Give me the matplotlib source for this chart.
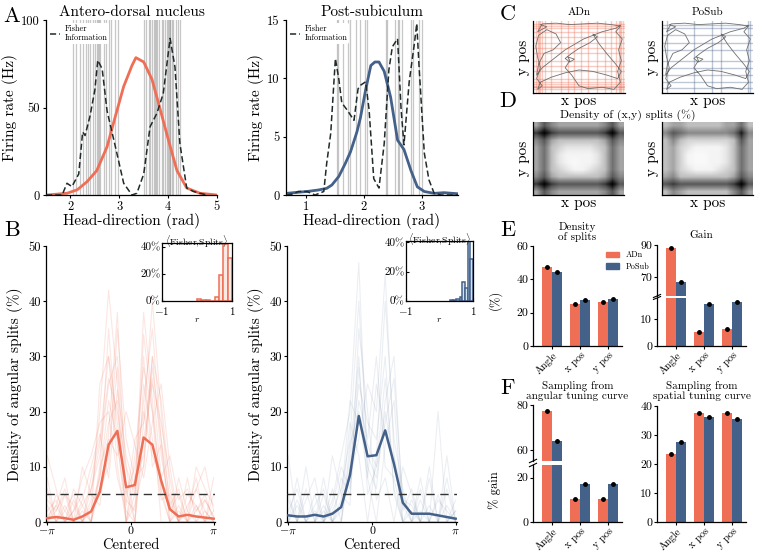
import matplotlib
matplotlib.use("Agg")
import matplotlib.pyplot as plt
import numpy as np
from matplotlib.patches import Patch
from matplotlib.lines import Line2D

plt.rcParams['font.family'] = ['cmr10', 'DejaVu Serif']
plt.rcParams['mathtext.fontset'] = 'cm'
plt.rcParams['axes.unicode_minus'] = False
plt.rcParams['axes.linewidth'] = 0.9

ORANGE = '#EE6F55'
BLUE = '#44618A'
GREY = '#9a9a9a'

# ---------------- panel A: tuning curves and Fisher information ----------------
adn_hd = [1.52, 1.93, 2.14, 2.34, 2.54, 2.75, 2.92, 3.09, 3.26, 3.34, 3.50, 3.67,
          3.84, 4.01, 4.18, 4.38, 4.65, 5.0]
adn_rate = [0, 1, 3, 7.6, 14, 27.6, 45, 62, 74, 78.5, 76, 66, 48.6, 31, 14, 4, 1, 0]
adn_fi_hd = [1.5, 1.83, 1.93, 2.03, 2.17, 2.25, 2.30, 2.40, 2.50, 2.56, 2.65, 2.75,
             2.92, 3.09, 3.26, 3.36, 3.50, 3.63, 3.77, 3.90, 4.04, 4.14, 4.24, 4.38,
             4.52, 4.65, 4.8]
adn_fi = [0, 0, 6.7, 4.8, 12, 36, 34, 45, 60, 77, 72, 48, 27.6, 6.7, 0, 1, 12, 39,
          46.7, 58, 89.5, 73, 29.5, 4, 2, 1, 0]
adn_splits = [2.05, 2.12, 2.20, 2.26, 2.31, 2.35, 2.41, 2.46, 2.51, 2.54, 2.56, 2.58,
              2.61, 2.68, 2.73, 2.78, 2.84, 2.91, 2.97, 3.51, 3.55, 3.60, 3.63, 3.67,
              3.71, 3.74, 3.76, 3.78, 3.82, 3.87, 3.90, 3.94, 3.97, 4.00, 4.02, 4.03,
              4.04, 4.07, 4.10, 4.16, 4.21, 4.24]

psb_hd = [0.67, 0.79, 1.02, 1.22, 1.36, 1.45, 1.57, 1.68, 1.77, 1.88, 1.94, 2.03,
          2.12, 2.19, 2.26, 2.35, 2.46, 2.58, 2.69, 2.81, 2.92, 3.04, 3.21, 3.38,
          3.53, 3.64]
psb_rate = [0.14, 0.2, 0.3, 0.43, 0.57, 0.86, 1.6, 2.7, 3.7, 5.4, 6.6, 9, 11.1, 11.4,
            11.4, 10.6, 8.4, 4.7, 3.9, 2.1, 0.7, 0.3, 0.14, 0.2, 0.14, 0.1]
psb_fi_hd = [0.67, 0.79, 0.87, 1.02, 1.16, 1.31, 1.36, 1.43, 1.51, 1.57, 1.62, 1.71,
             1.83, 1.90, 1.94, 2.03, 2.09, 2.17, 2.26, 2.35, 2.43, 2.49, 2.58, 2.64,
             2.69, 2.78, 2.87, 2.91, 2.95, 3.04, 3.12, 3.21, 3.33, 3.64]
psb_fi = [0, 0.1, 0.3, 0.3, 0, 0.3, 2.7, 5.3, 11.7, 9.9, 7.9, 7.3, 6.4, 9.1, 9.4, 9.7,
          7.3, 1.4, 0.6, 4.4, 10.7, 12.7, 13.4, 7.4, 4.3, 9.7, 13, 14.7, 11, 3.6,
          1.3, 0.14, 0, 0]
psb_splits = [1.53, 1.55, 1.64, 1.72, 1.76, 1.86, 1.94, 2.02, 2.05, 2.38, 2.40, 2.53,
              2.58, 2.61, 2.66, 2.81, 2.84, 2.95, 3.0]

# ---------------- panel B: density of angular splits ----------------
centered = np.linspace(-np.pi, np.pi, 20)
adn_mean = [0.7, 0.9, 0.7, 0.4, 1.0, 1.9, 5.5, 14.0, 16.5, 6.3, 6.7, 15.3, 14.0, 7.5,
            2.3, 1.0, 1.3, 1.0, 0.8, 0.6]
psb_mean = [1.2, 1.0, 1.0, 1.3, 1.0, 1.5, 2.7, 8.5, 19.2, 11.9, 12.1, 16.6, 10.5, 3.5,
            1.5, 1.5, 1.5, 1.2, 0.9, 0.6]
adn_cells = [
    [0, 2, 5, 0, 3, 6, 12, 25, 30, 10, 5, 22, 35, 15, 4, 0, 3, 6, 2, 0],
    [3, 0, 0, 4, 0, 3, 8, 18, 22, 0, 12, 28, 20, 6, 0, 2, 0, 0, 4, 1],
    [0, 5, 2, 0, 0, 8, 15, 30, 18, 6, 0, 15, 25, 18, 8, 0, 5, 3, 0, 2],
    [8, 0, 0, 2, 5, 0, 6, 10, 35, 15, 8, 10, 30, 12, 3, 6, 0, 0, 2, 0],
    [0, 0, 3, 0, 0, 4, 20, 42, 25, 0, 5, 38, 22, 5, 0, 0, 2, 8, 0, 0],
    [2, 4, 0, 6, 3, 0, 10, 15, 12, 20, 14, 8, 18, 25, 10, 0, 0, 3, 0, 5],
    [0, 0, 0, 2, 8, 12, 18, 20, 8, 2, 0, 18, 40, 20, 2, 5, 0, 0, 0, 0],
    [4, 2, 6, 0, 0, 2, 5, 12, 28, 5, 10, 20, 12, 8, 12, 4, 6, 2, 4, 1],
    [12, 6, 0, 0, 2, 0, 8, 22, 15, 0, 3, 10, 28, 15, 0, 0, 0, 10, 6, 3],
    [0, 0, 5, 3, 0, 6, 14, 26, 20, 10, 0, 25, 15, 4, 5, 0, 8, 0, 0, 0],
    [1, 3, 0, 0, 10, 5, 3, 16, 38, 4, 2, 34, 20, 0, 0, 3, 0, 2, 5, 0],
    [0, 0, 2, 5, 0, 0, 25, 30, 10, 0, 8, 12, 30, 22, 6, 0, 0, 0, 0, 8],
    [6, 0, 0, 0, 4, 10, 16, 8, 24, 12, 6, 30, 10, 14, 0, 8, 2, 0, 0, 0],
    [0, 3, 8, 0, 0, 0, 9, 35, 14, 3, 15, 18, 26, 8, 3, 0, 0, 6, 10, 2],
]
psb_cells = [
    [0, 3, 0, 5, 0, 2, 6, 15, 40, 12, 8, 20, 10, 3, 0, 4, 0, 0, 6, 0],
    [5, 0, 0, 0, 8, 0, 0, 10, 25, 18, 15, 30, 5, 0, 2, 0, 8, 0, 0, 2],
    [0, 0, 10, 0, 0, 4, 12, 20, 47, 8, 0, 14, 22, 0, 0, 0, 0, 5, 0, 0],
    [2, 6, 0, 0, 3, 0, 3, 8, 15, 25, 20, 45, 12, 5, 0, 6, 0, 0, 3, 0],
    [0, 0, 4, 8, 0, 6, 0, 12, 30, 5, 10, 18, 26, 4, 3, 0, 10, 0, 0, 4],
    [12, 0, 0, 0, 0, 0, 8, 5, 22, 15, 30, 10, 8, 0, 0, 2, 0, 0, 0, 0],
    [0, 4, 0, 3, 6, 0, 2, 18, 12, 0, 12, 40, 15, 6, 0, 0, 3, 0, 8, 0],
    [0, 0, 6, 0, 0, 12, 5, 3, 35, 20, 4, 8, 0, 10, 5, 0, 0, 20, 0, 2],
    [4, 0, 0, 0, 2, 0, 0, 14, 20, 8, 25, 16, 12, 0, 0, 8, 0, 0, 0, 0],
    [0, 8, 0, 2, 0, 3, 10, 6, 28, 10, 6, 22, 30, 2, 6, 0, 0, 4, 2, 0],
    [0, 0, 0, 0, 5, 0, 4, 22, 18, 14, 10, 26, 6, 0, 4, 0, 0, 0, 12, 0],
]

# insets: correlation Fisher vs splits
adn_r_edges = [0.0, 0.125, 0.25, 0.375, 0.5, 0.625, 0.75, 0.875, 1.0]
adn_r_pct = [1.5, 1, 1, 0, 3, 19, 42, 32]
psb_r_edges = [0.3, 0.4, 0.5, 0.6, 0.68, 0.76, 0.84, 0.92, 1.0]
psb_r_pct = [0.5, 0.5, 1.5, 2.5, 13, 9, 41, 29]

# ---------------- panel C: trajectory and splits ----------------
traj_x = [0.08, 0.15, 0.05, 0.10, 0.25, 0.40, 0.55, 0.70, 0.85, 0.95, 0.90, 0.97, 0.93,
          0.96, 0.92, 0.95, 0.88, 0.75, 0.60, 0.50, 0.42, 0.35, 0.40, 0.38, 0.45, 0.40,
          0.35, 0.42, 0.50, 0.62, 0.70, 0.65, 0.72, 0.80, 0.90, 0.96, 0.92, 0.80, 0.65,
          0.50, 0.35, 0.20, 0.08, 0.05, 0.10, 0.04, 0.08, 0.05, 0.03, 0.06, 0.15, 0.25,
          0.30, 0.22, 0.12, 0.06, 0.04, 0.10, 0.20, 0.35, 0.55, 0.75, 0.90, 0.95]
traj_y = [0.95, 0.92, 0.85, 0.96, 0.97, 0.95, 0.96, 0.97, 0.95, 0.93, 0.85, 0.75, 0.60,
          0.45, 0.30, 0.15, 0.05, 0.08, 0.06, 0.10, 0.25, 0.35, 0.45, 0.50, 0.47, 0.43,
          0.48, 0.55, 0.62, 0.70, 0.78, 0.82, 0.68, 0.55, 0.40, 0.30, 0.20, 0.25, 0.30,
          0.32, 0.28, 0.22, 0.15, 0.05, 0.10, 0.20, 0.35, 0.50, 0.65, 0.80, 0.88, 0.82,
          0.70, 0.60, 0.55, 0.40, 0.25, 0.35, 0.45, 0.60, 0.75, 0.85, 0.90, 0.94]
adn_xsplits = [0.03, 0.05, 0.06, 0.08, 0.10, 0.13, 0.20, 0.30, 0.38, 0.45, 0.52, 0.60,
               0.70, 0.78, 0.85, 0.90, 0.93, 0.95, 0.96, 0.98]
adn_ysplits = [0.05, 0.08, 0.09, 0.10, 0.12, 0.15, 0.20, 0.30, 0.38, 0.45, 0.55, 0.62,
               0.70, 0.78, 0.85, 0.90, 0.93, 0.96]
psb_xsplits = [0.05, 0.35, 0.55, 0.65, 0.95, 0.97]
psb_ysplits = [0.07, 0.15, 0.25, 0.35, 0.45, 0.60, 0.70, 0.80, 0.90, 0.95]

# ---------------- panel D: density of (x,y) splits ----------------
adn_density = [
    [5, 8, 6, 5, 5, 5, 5, 5, 5, 6, 8, 5],
    [9, 11, 9, 8, 8, 8, 8, 8, 8, 9, 11, 8],
    [6, 8, 5, 4, 4, 4, 4, 4, 4, 5, 8, 6],
    [5, 7, 4, 3, 2, 2, 2, 2, 3, 4, 7, 5],
    [5, 7, 4, 2, 1, 1, 1, 1, 2, 4, 7, 5],
    [5, 7, 4, 2, 1, 0.5, 1, 1, 2, 4, 7, 5],
    [5, 7, 4, 3, 2, 1, 1, 2, 3, 4, 7, 5],
    [6, 8, 5, 4, 4, 4, 4, 4, 4, 5, 8, 6],
    [9, 11, 9, 8, 8, 8, 8, 8, 8, 9, 11, 8],
    [5, 8, 6, 5, 5, 5, 5, 5, 5, 6, 8, 5],
]
psb_density = [
    [4, 5, 5, 4, 4, 4, 4, 4, 5, 5, 7, 4],
    [6, 8, 7, 6, 6, 6, 6, 6, 6, 7, 10, 6],
    [4, 6, 4, 3, 3, 3, 3, 3, 3, 4, 8, 5],
    [4, 5, 3, 2, 1, 1, 1, 1, 2, 4, 7, 5],
    [4, 5, 3, 1, 0.5, 0.5, 1, 1, 2, 4, 7, 5],
    [4, 5, 3, 1, 0.5, 0.5, 1, 1, 2, 4, 7, 5],
    [4, 5, 3, 2, 1, 1, 1, 2, 3, 4, 7, 5],
    [5, 6, 4, 4, 4, 4, 4, 4, 4, 5, 8, 6],
    [8, 9, 8, 8, 8, 8, 8, 8, 8, 9, 11, 8],
    [4, 6, 5, 4, 4, 4, 4, 4, 4, 6, 8, 5],
]

# ---------------- panels E / F: bar charts ----------------
bar_labels = ['Angle', 'x pos', 'y pos']
split_adn = [47.6, 25.2, 26.4]
split_psb = [44.2, 27.6, 28.0]
split_err = [0.6, 0.6, 0.6]
gain_adn = [88.0, 5.3, 6.2]
gain_psb = [66.8, 15.4, 16.3]
gain_err = [0.6, 0.5, 0.5]
ang_adn = [77.5, 10.5, 10.4]
ang_psb = [64.1, 17.3, 17.0]
ang_err = [0.9, 0.5, 0.5]
spa_adn = [23.4, 37.7, 37.7]
spa_psb = [27.6, 36.1, 35.5]
spa_err = [0.4, 0.4, 0.4]


def px(l, t, r, b):
    W, H = 760, 552
    return [l / W, 1 - b / H, (r - l) / W, (b - t) / H]


def clean(ax):
    ax.spines['top'].set_visible(False)
    ax.spines['right'].set_visible(False)


fig = plt.figure(figsize=(7.6, 5.52), dpi=100)

# ---- A ----
for rect, hd, rate, fhd, fi, splits, col, title, ylim, xlim, yt, xt in [
        (px(46, 20, 217, 195), adn_hd, adn_rate, adn_fi_hd, adn_fi, adn_splits, ORANGE,
         'Antero-dorsal nucleus', (0, 100), (1.5, 5.0), [0, 50, 100], [2, 3, 4, 5]),
        (px(286, 20, 458, 195), psb_hd, psb_rate, psb_fi_hd, psb_fi, psb_splits, BLUE,
         'Post-subiculum', (0, 15), (0.66, 3.62), [0, 5, 10, 15], [1, 2, 3])]:
    ax = fig.add_axes(rect)
    for s in splits:
        ax.axvline(s, color=GREY, alpha=0.55, lw=0.9, zorder=0)
    ax.plot(hd, rate, color=col, lw=2, zorder=2)
    # Fisher information is on its own scale, rescaled to the rate axis
    ax.plot(fhd, fi, color='#1f2a2a', lw=1.1, dashes=(4, 2), zorder=3)
    ax.set_xlim(*xlim)
    ax.set_ylim(*ylim)
    ax.set_yticks(yt)
    ax.set_xticks(xt)
    ax.tick_params(labelsize=9, length=2.5, pad=2)
    ax.set_title(title, fontsize=11, pad=3)
    ax.set_xlabel('Head-direction (rad)', fontsize=11, labelpad=0)
    ax.set_ylabel('Firing rate (Hz)', fontsize=11, labelpad=2)
    clean(ax)
    leg = ax.legend([Line2D([], [], color='#1f2a2a', lw=1.1, dashes=(4, 2))],
                    ['Fisher\nInformation'], loc='upper left', fontsize=6,
                    handlelength=1.2, handletextpad=0.5, borderaxespad=0.3,
                    frameon=True, framealpha=1, edgecolor='none', facecolor='white',
                    borderpad=0.2)
    leg.set_zorder(5)

# ---- B ----
for rect, inset_rect, cells, mean, col, light, alpha, edges, pct, itop in [
        (px(46, 246, 215, 522), px(162, 243, 232, 301), adn_cells, adn_mean, ORANGE,
         '#fde9e3', 0.17, adn_r_edges, adn_r_pct, 43),
        (px(287, 246, 457, 522), px(406, 241, 473, 301), psb_cells, psb_mean, BLUE,
         '#d3e2f3', 0.1, psb_r_edges, psb_r_pct, 41)]:
    ax = fig.add_axes(rect)
    for c in cells:
        ax.plot(centered, c, color=col, alpha=alpha, lw=0.8, zorder=1)
    ax.plot(centered, mean, color=col, lw=1.8, zorder=3)
    ax.axhline(5, color='#333333', lw=1, dashes=(6, 4), zorder=4)
    ax.set_xlim(-np.pi - 0.05, np.pi + 0.05)
    ax.set_ylim(0, 50)
    ax.set_yticks(range(0, 51, 10))
    ax.set_xticks([-np.pi, 0, np.pi])
    ax.set_xticklabels([r'$-\pi$', '0', r'$\pi$'])
    ax.tick_params(labelsize=9, length=2.5, pad=1)
    ax.tick_params(axis='x', labelsize=8.5)
    ax.set_ylabel('Density of angular splits (%)', fontsize=11, labelpad=4)
    ax.text(0.5, -0.085, 'Centered', fontsize=10.5, ha='center', va='center',
            transform=ax.transAxes)
    clean(ax)

    ins = fig.add_axes(inset_rect)
    ins.bar(edges[:-1], pct, width=np.diff(edges), align='edge', color=light,
            edgecolor=col, lw=1.1)
    ins.set_xlim(-1, 1)
    ins.set_ylim(0, itop)
    ins.set_xticks([-1, 1])
    ins.set_xticklabels(['$-1$', '$1$'])
    ins.set_yticks([0, 20, 40])
    ins.set_yticklabels(['0%', '20%', '40%'])
    ins.tick_params(labelsize=8, length=2, pad=1, direction='in')
    ins.tick_params(axis='x', pad=3)
    ins.text(0.5, -0.32, '$r$', fontsize=7, ha='center', va='center',
             transform=ins.transAxes)
    ins.text(0.5, 1.02, r'$\langle$Fisher,Splits$\rangle$', fontsize=7,
             ha='center', va='center', transform=ins.transAxes)

# ---- C ----
for rect, xs, ys, col, title in [
        (px(533, 21, 625, 93), adn_xsplits, adn_ysplits, ORANGE, 'ADn'),
        (px(662, 21, 753, 93), psb_xsplits, psb_ysplits, BLUE, 'PoSub')]:
    ax = fig.add_axes(rect)
    for v in xs:
        ax.axvline(v, color=col, alpha=0.35, lw=1.0)
    for h in ys:
        ax.axhline(h, color=col, alpha=0.35, lw=1.0)
    ax.plot(traj_x, traj_y, color='#6f6f6f', lw=0.6)
    ax.set_xlim(0, 1)
    ax.set_ylim(0, 1)
    ax.set_xticks([])
    ax.set_yticks([])
    ax.set_title(title, fontsize=8, pad=4)
    ax.set_xlabel('x pos', fontsize=11, labelpad=1)
    ax.set_ylabel('y pos', fontsize=11, labelpad=2)
    clean(ax)

# ---- D ----
for rect, dens in [(px(533, 122, 624, 195), adn_density),
                   (px(662, 122, 753, 195), psb_density)]:
    ax = fig.add_axes(rect)
    ax.imshow(dens, cmap='Greys', interpolation='bilinear', aspect='auto',
              vmin=0, vmax=11)
    ax.set_xticks([])
    ax.set_yticks([])
    ax.set_xlabel('x pos', fontsize=11, labelpad=1)
    ax.set_ylabel('y pos', fontsize=11, labelpad=2)
    clean(ax)
fig.text(628 / 760, 1 - 115 / 552, 'Density of (x,y) splits (%)', fontsize=8.5,
         ha='center', va='center')

# ---- E / F ----
groups = np.arange(len(bar_labels))
bw = 0.36


def draw_bars(ax, a, b, err):
    ax.bar(groups - bw / 2, a, width=bw, color=ORANGE)
    ax.bar(groups + bw / 2, b, width=bw, color=BLUE)
    ax.errorbar(groups - bw / 2, a, yerr=err, fmt='o', ms=2.5, color='black',
                elinewidth=0.8, capsize=0)
    ax.errorbar(groups + bw / 2, b, yerr=err, fmt='o', ms=2.5, color='black',
                elinewidth=0.8, capsize=0)
    ax.set_xlim(-0.7, 2.5)
    clean(ax)
    ax.tick_params(labelsize=8.5, length=2.5, pad=1)


def labels_x(ax):
    ax.set_xticks(groups)
    ax.set_xticklabels(bar_labels, rotation=45, ha='right', rotation_mode='anchor',
                       fontsize=7.5)
    ax.tick_params(axis='x', pad=0.5)


def broken(rect_up, rect_lo, a, b, err, ylim_up, ylim_lo, yt_up, yt_lo):
    up = fig.add_axes(rect_up)
    lo = fig.add_axes(rect_lo)
    draw_bars(up, a, b, err)
    draw_bars(lo, a, b, err)
    up.set_ylim(*ylim_up)
    lo.set_ylim(*ylim_lo)
    up.set_yticks(yt_up)
    lo.set_yticks(yt_lo)
    up.spines['bottom'].set_visible(False)
    up.set_xticks([])
    labels_x(lo)
    # break marks on the left spine
    for axx, yy in [(up, 0), (lo, 1)]:
        axx.plot([-0.04, 0.04], [yy - 0.03, yy + 0.03], transform=axx.transAxes,
                 color='black', lw=0.8, clip_on=False)
    return up, lo


axE1 = fig.add_axes(px(533, 246, 622, 346))
draw_bars(axE1, split_adn, split_psb, split_err)
axE1.set_ylim(0, 60)
axE1.set_yticks([0, 20, 40, 60])
labels_x(axE1)
axE1.set_title('Density\nof splits', fontsize=8, pad=4, linespacing=1.0)

up, lo = broken(px(657, 245, 746, 296), px(657, 298, 746, 346), gain_adn, gain_psb,
                gain_err, (58, 90), (0, 17.8), [70, 90], [0, 10])
up.set_title('Gain', fontsize=8, pad=5)

up, lo = broken(px(533, 405, 622, 461), px(533, 465, 622, 522), ang_adn, ang_psb,
                ang_err, (55, 80), (0, 25.7), [60, 80], [0, 20])
up.set_title('Sampling from\nangular tuning curve', fontsize=8, pad=4,
             linespacing=1.0)

axF2 = fig.add_axes(px(657, 406, 746, 522))
draw_bars(axF2, spa_adn, spa_psb, spa_err)
axF2.set_ylim(0, 40)
axF2.set_yticks([0, 10, 20, 30, 40])
labels_x(axF2)
axF2.set_title('Sampling from\nspatial tuning curve', fontsize=8, pad=5,
               linespacing=1.0)

fig.text(495 / 760, 1 - 300 / 552, '(%)', fontsize=9, rotation=90, ha='center',
         va='center')
fig.text(495 / 760, 1 - 490 / 552, '% gain', fontsize=9, rotation=90, ha='center',
         va='center')

fig.legend([Patch(color=ORANGE), Patch(color=BLUE)], ['ADn', 'PoSub'],
           loc='center left', bbox_to_anchor=(598 / 760, 1 - 261 / 552), fontsize=6,
           frameon=False, handlelength=1.6, handleheight=0.6, labelspacing=0.4)

# ---- panel letters ----
for letter, x, y in [('A', 12, 16), ('B', 12, 230), ('C', 508, 14), ('D', 508, 101),
                     ('E', 508, 230), ('F', 508, 388)]:
    fig.text(x / 760, 1 - y / 552, letter, fontsize=16, ha='center', va='center')

fig.savefig('out.png', dpi=100)
